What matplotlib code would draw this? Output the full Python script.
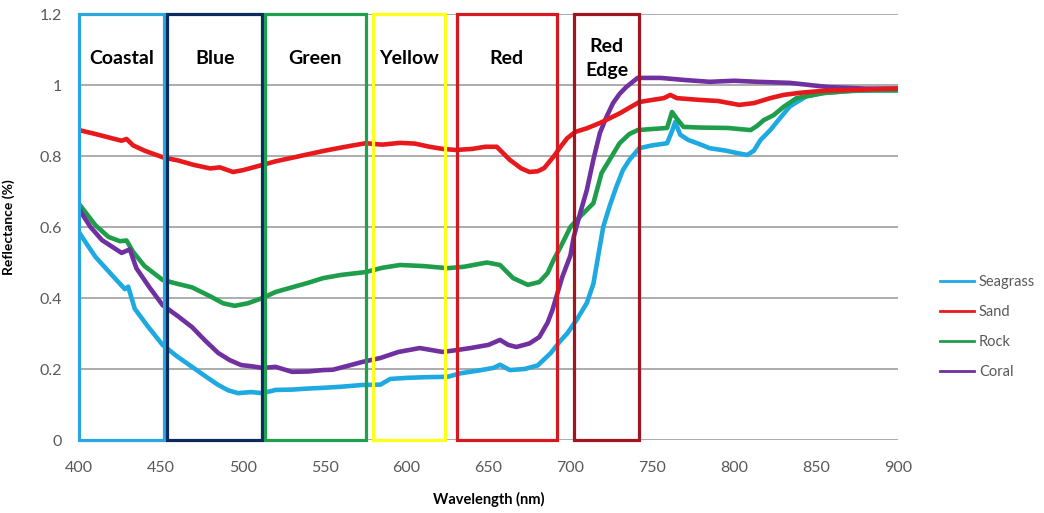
import matplotlib
matplotlib.use("Agg")
from matplotlib import pyplot as plt
from matplotlib.patches import Rectangle

plt.rcParams['font.family'] = ['Lato', 'DejaVu Sans']

# reflectance spectra (wavelength in nm, reflectance)
seagrass_wl = [400, 405, 410, 420, 428, 430, 434, 442, 451, 460, 469, 477, 485, 491,
               497, 505, 512, 520, 530, 540, 549, 560, 573, 584, 590, 600, 612, 625,
               633, 643, 653, 657, 663, 672, 680, 688, 694, 698, 704, 710, 714, 717,
               720, 724, 728, 732, 736, 742, 750, 759, 762, 764, 767, 772, 778, 785,
               795, 802, 808, 812, 816, 822, 828, 834, 844, 855, 870, 885, 900]
seagrass = [0.585, 0.55, 0.516, 0.465, 0.425, 0.432, 0.37, 0.32, 0.268, 0.235, 0.206,
            0.18, 0.155, 0.14, 0.132, 0.135, 0.132, 0.141, 0.142, 0.145, 0.147, 0.15,
            0.155, 0.156, 0.172, 0.175, 0.177, 0.178, 0.188, 0.195, 0.203, 0.212,
            0.197, 0.2, 0.21, 0.245, 0.28, 0.30, 0.34, 0.386, 0.44, 0.52, 0.6, 0.66,
            0.713, 0.76, 0.789, 0.822, 0.83, 0.836, 0.87, 0.896, 0.86, 0.845, 0.835,
            0.822, 0.815, 0.808, 0.803, 0.815, 0.845, 0.873, 0.907, 0.94, 0.968,
            0.978, 0.983, 0.985, 0.985]

sand_wl = [400, 410, 420, 426, 429, 433, 440, 452, 460, 470, 480, 486, 494, 500, 512,
           520, 530, 540, 550, 565, 575, 585, 596, 605, 614, 622, 630, 640, 648, 655,
           663, 670, 675, 680, 684, 690, 694, 698, 703, 710, 718, 730, 742, 750, 757,
           761, 765, 779, 790, 803, 812, 822, 830, 840, 855, 871, 885, 900]
sand = [0.873, 0.862, 0.85, 0.843, 0.848, 0.83, 0.815, 0.795, 0.788, 0.775, 0.765,
        0.768, 0.755, 0.76, 0.775, 0.785, 0.795, 0.805, 0.815, 0.828, 0.836, 0.832,
        0.837, 0.835, 0.826, 0.82, 0.817, 0.82, 0.826, 0.826, 0.789, 0.765, 0.755,
        0.757, 0.766, 0.8, 0.826, 0.85, 0.868, 0.878, 0.893, 0.92, 0.952, 0.958,
        0.963, 0.972, 0.963, 0.958, 0.955, 0.944, 0.949, 0.963, 0.972, 0.978,
        0.984, 0.986, 0.988, 0.99]

rock_wl = [400, 405, 410, 418, 425, 429, 433, 440, 451, 460, 469, 480, 488, 495, 503,
           512, 520, 530, 540, 549, 560, 575, 585, 596, 610, 625, 635, 649, 657, 665,
           674, 681, 686, 690, 694, 700, 706, 714, 719, 724, 730, 736, 741, 750, 759,
           762, 765, 769, 780, 796, 810, 814, 818, 824, 830, 838, 854, 875, 900]
rock = [0.665, 0.635, 0.605, 0.572, 0.56, 0.562, 0.53, 0.49, 0.451, 0.44, 0.43, 0.405,
        0.385, 0.378, 0.385, 0.4, 0.417, 0.43, 0.443, 0.456, 0.465, 0.473, 0.485,
        0.493, 0.49, 0.484, 0.488, 0.5, 0.493, 0.456, 0.437, 0.445, 0.47, 0.51,
        0.544, 0.6, 0.63, 0.667, 0.752, 0.79, 0.836, 0.862, 0.873, 0.876, 0.879,
        0.924, 0.905, 0.882, 0.88, 0.879, 0.873, 0.885, 0.901, 0.915, 0.938, 0.963,
        0.977, 0.985, 0.985]

coral_wl = [400, 407, 414, 420, 426, 431, 435, 443, 451, 460, 469, 477, 485, 492, 499,
            505, 512, 520, 530, 540, 549, 555, 565, 573, 584, 595, 608, 622, 630, 639,
            650, 657, 662, 667, 675, 681, 686, 689, 695, 700, 702, 706, 710, 714, 718,
            722, 726, 730, 734, 741, 755, 770, 785, 800, 814, 834, 858, 880, 900]
coral = [0.65, 0.6, 0.563, 0.545, 0.527, 0.537, 0.484, 0.43, 0.38, 0.35, 0.318, 0.28,
         0.245, 0.225, 0.211, 0.208, 0.203, 0.206, 0.192, 0.193, 0.197, 0.198, 0.21,
         0.22, 0.231, 0.248, 0.259, 0.248, 0.253, 0.259, 0.268, 0.282, 0.268, 0.262,
         0.272, 0.29, 0.33, 0.366, 0.459, 0.52, 0.572, 0.64, 0.704, 0.79, 0.865, 0.91,
         0.949, 0.975, 0.994, 1.02, 1.02, 1.014, 1.009, 1.012, 1.009, 1.006, 0.994,
         0.99, 0.99]

# sensor bands: name, start, end
band_names = ["Coastal", "Blue", "Green", "Yellow", "Red", "Red\nEdge"]
band_start = [400, 454, 513.6, 579.5, 630.5, 702]
band_end = [452, 512, 575, 623.7, 691.6, 742]
band_colors = ["#2AA7DE", "#0B2A5E", "#1EA04E", "#FFFF1A", "#D7191F", "#A0151E"]

fig = plt.figure(figsize=(10.44, 5.13), dpi=100)
ax = fig.add_axes([0.0757, 0.1423, 0.7845, 0.8304])

l1, = ax.plot(seagrass_wl, seagrass, color="#1FA9E1", lw=3.3, label="Seagrass", zorder=3)
l3, = ax.plot(rock_wl, rock, color="#1E9E4A", lw=3.3, label="Rock", zorder=3)
l4, = ax.plot(coral_wl, coral, color="#7030A0", lw=3.3, label="Coral", zorder=3)
l2, = ax.plot(sand_wl, sand, color="#E8191C", lw=3.3, label="Sand", zorder=3)

for name, x0, x1, c in zip(band_names, band_start, band_end, band_colors):
    ax.add_patch(Rectangle((x0, 0), x1 - x0, 1.2, fill=False, edgecolor=c,
                           lw=2.3, zorder=4, clip_on=False))
    ax.text((x0 + x1) / 2, 1.075, name, ha="center", va="center",
            fontsize=14, fontweight="bold", linespacing=1.45, zorder=5)

ax.set_xlim(400, 900)
ax.set_ylim(0, 1.2)
ax.set_xticks([400, 450, 500, 550, 600, 650, 700, 750, 800, 850, 900])
ax.set_yticks([0, 0.2, 0.4, 0.6, 0.8, 1, 1.2])
ax.set_yticklabels(["0", "0.2", "0.4", "0.6", "0.8", "1", "1.2"])
ax.tick_params(length=0, labelsize=11.5, labelcolor="#595959")
ax.tick_params(axis="x", pad=15)
ax.tick_params(axis="y", pad=12)
ax.grid(axis="y", color="#A6A6A6", lw=1.3, zorder=1)
for s in ax.spines.values():
    s.set_visible(False)

ax.set_xlabel("Wavelength (nm)", fontsize=10.5, fontweight="bold", labelpad=12)
ax.set_ylabel("Reflectance (%)", fontsize=10, fontweight="bold", labelpad=18)

fig.legend(handles=[l1, l2, l3, l4], loc="upper left", bbox_to_anchor=(0.888, 0.49),
           frameon=False, fontsize=10.5, handlelength=2.3, handletextpad=0.35,
           labelspacing=1.1, labelcolor="#595959")
for h in fig.legends[0].legend_handles:
    h.set_linewidth(2)

fig.savefig("out.png", dpi=100)
